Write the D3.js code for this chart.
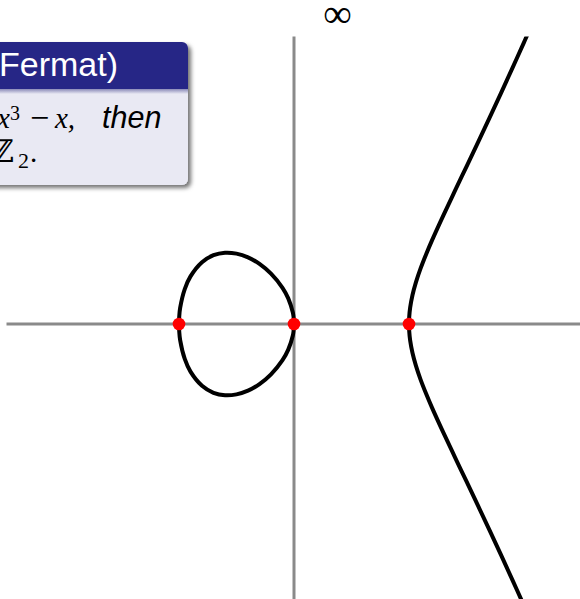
<!DOCTYPE html>
<html><head><meta charset="utf-8">
<script src="https://cdn.jsdelivr.net/npm/d3@7"></script>
<style>html,body{margin:0;padding:0;background:#fff;}svg{display:block;}</style>
</head><body>
<script>
// Data: upper halves of the curve (lower halves are mirrored)
const ovalX = [-1, -0.998, -0.99, -0.95, -0.9, -0.8, -0.7, -0.6, -0.5, -0.4, -0.3, -0.2, -0.1, -0.05, -0.01, -0.004, 0];
const ovalY = [0, 0.063, 0.140, 0.304, 0.414, 0.537, 0.598, 0.620, 0.612, 0.580, 0.523, 0.438, 0.315, 0.223, 0.100, 0.063, 0];
const branchX = [1, 1.002, 1.01, 1.03, 1.06, 1.1, 1.15, 1.2, 1.3, 1.4, 1.5, 1.6, 1.7, 1.8, 1.9, 2.0, 2.03];
const branchY = [0, 0.063, 0.1425, 0.250, 0.362, 0.481, 0.609, 0.727, 0.947, 1.159, 1.369, 1.580, 1.793, 2.008, 2.227, 2.449, 2.517];
const rootsX = [-1, 0, 1];
const xDomain = [-2.5, 2.5];
const yDomain = [-2.5, 2.5];
const titleText = "Fermat)";

const W = 580, H = 599;
const svg = d3.select("body").append("svg").attr("width", W).attr("height", H);
const x = d3.scaleLinear().domain(xDomain).range([6.5, 581.5]);
const y = d3.scaleLinear().domain(yDomain).range([611.5, 36.5]);

const defs = svg.append("defs");
defs.append("clipPath").attr("id", "plotclip").append("rect")
  .attr("x", x(xDomain[0]) - 10).attr("y", y(yDomain[1]))
  .attr("width", x(xDomain[1]) - x(xDomain[0]) + 20).attr("height", y(yDomain[0]) - y(yDomain[1]));

// axes
const axisColor = "#8a8a8a";
svg.append("line").attr("x1", x(xDomain[0])).attr("x2", x(xDomain[1])).attr("y1", y(0)).attr("y2", y(0))
  .attr("stroke", axisColor).attr("stroke-width", 3);
svg.append("line").attr("x1", x(0)).attr("x2", x(0)).attr("y1", y(yDomain[1])).attr("y2", y(yDomain[0]))
  .attr("stroke", axisColor).attr("stroke-width", 3);

// curve: upper oval from -1 to 0, then lower oval from 0 back to -1
const upperOval = ovalX.map((v, i) => [v, ovalY[i]]);
const ovalLoop = upperOval.concat(ovalX.map((v, i) => [v, -ovalY[i]]).reverse().slice(1, -1));
const branchPts = branchX.map((v, i) => [v, -branchY[i]]).reverse().concat(branchX.map((v, i) => [v, branchY[i]]).slice(1));

const g = svg.append("g").attr("clip-path", "url(#plotclip)");
g.append("path").datum(ovalLoop)
  .attr("d", d3.line().x(d => x(d[0])).y(d => y(d[1])).curve(d3.curveCatmullRomClosed))
  .attr("fill", "none").attr("stroke", "#000").attr("stroke-width", 4);
g.append("path").datum(branchPts)
  .attr("d", d3.line().x(d => x(d[0])).y(d => y(d[1])).curve(d3.curveCatmullRom))
  .attr("fill", "none").attr("stroke", "#000").attr("stroke-width", 4);

svg.selectAll("circle.root").data(rootsX).enter().append("circle")
  .attr("cx", d => x(d)).attr("cy", y(0)).attr("r", 6.3).attr("fill", "#ff0000");

// infinity label
svg.append("text").attr("x", 337.5).attr("y", 27).attr("text-anchor", "middle")
  .attr("font-family", "Liberation Serif").attr("font-size", 40).attr("fill", "#000").text("\u221E");

// theorem block (cropped at left)
const sh = defs.append("filter").attr("id", "shadow").attr("x", "-20%").attr("y", "-20%").attr("width", "140%").attr("height", "140%");
sh.append("feDropShadow").attr("dx", 3).attr("dy", 3).attr("stdDeviation", 2.2).attr("flood-color", "#000").attr("flood-opacity", 0.55);
const grad = defs.append("linearGradient").attr("id", "tgrad").attr("x1", 0).attr("x2", 0).attr("y1", 0).attr("y2", 1);
grad.append("stop").attr("offset", "0%").attr("stop-color", "#8a8ab8");
grad.append("stop").attr("offset", "100%").attr("stop-color", "#e9e9f3");
defs.append("clipPath").attr("id", "boxclip").append("rect")
  .attr("x", -20).attr("y", 42).attr("width", 208).attr("height", 143).attr("rx", 6);

const box = svg.append("g");
box.append("rect").attr("x", -20).attr("y", 42).attr("width", 208).attr("height", 143).attr("rx", 6)
  .attr("fill", "#e9e9f3").attr("filter", "url(#shadow)");
const inner = box.append("g").attr("clip-path", "url(#boxclip)");
inner.append("rect").attr("x", -20).attr("y", 42).attr("width", 208).attr("height", 47).attr("fill", "#262686");
inner.append("rect").attr("x", -20).attr("y", 89).attr("width", 208).attr("height", 5).attr("fill", "url(#tgrad)");

box.append("text").attr("x", -1).attr("y", 76).attr("font-family", "Liberation Sans").attr("font-size", 34)
  .attr("fill", "#fff").text(titleText);

const serif = "Liberation Serif", sans = "Liberation Sans";
const fs = 29;
box.append("text").attr("x", -3).attr("y", 128).attr("font-family", serif).attr("font-style", "italic").attr("font-size", fs).text("x");
box.append("text").attr("x", 10).attr("y", 120).attr("font-family", serif).attr("font-size", 20).text("3");
box.append("text").attr("x", 30).attr("y", 129).attr("font-family", serif).attr("font-size", 34).text("\u2212");
box.append("text").attr("x", 55).attr("y", 128).attr("font-family", serif).attr("font-style", "italic").attr("font-size", fs).text("x,");
box.append("text").attr("x", 102).attr("y", 128).attr("font-family", sans).attr("font-style", "italic").attr("font-size", 30.5).text("then");
box.append("text").attr("x", -9).attr("y", 162).attr("font-family", "DejaVu Serif").attr("font-size", 31).text("\u2124");
box.append("text").attr("x", 18).attr("y", 168).attr("font-family", serif).attr("font-size", 22).text("2");
box.append("text").attr("x", 30).attr("y", 162).attr("font-family", serif).attr("font-size", fs).text(".");
</script>
</body></html>
